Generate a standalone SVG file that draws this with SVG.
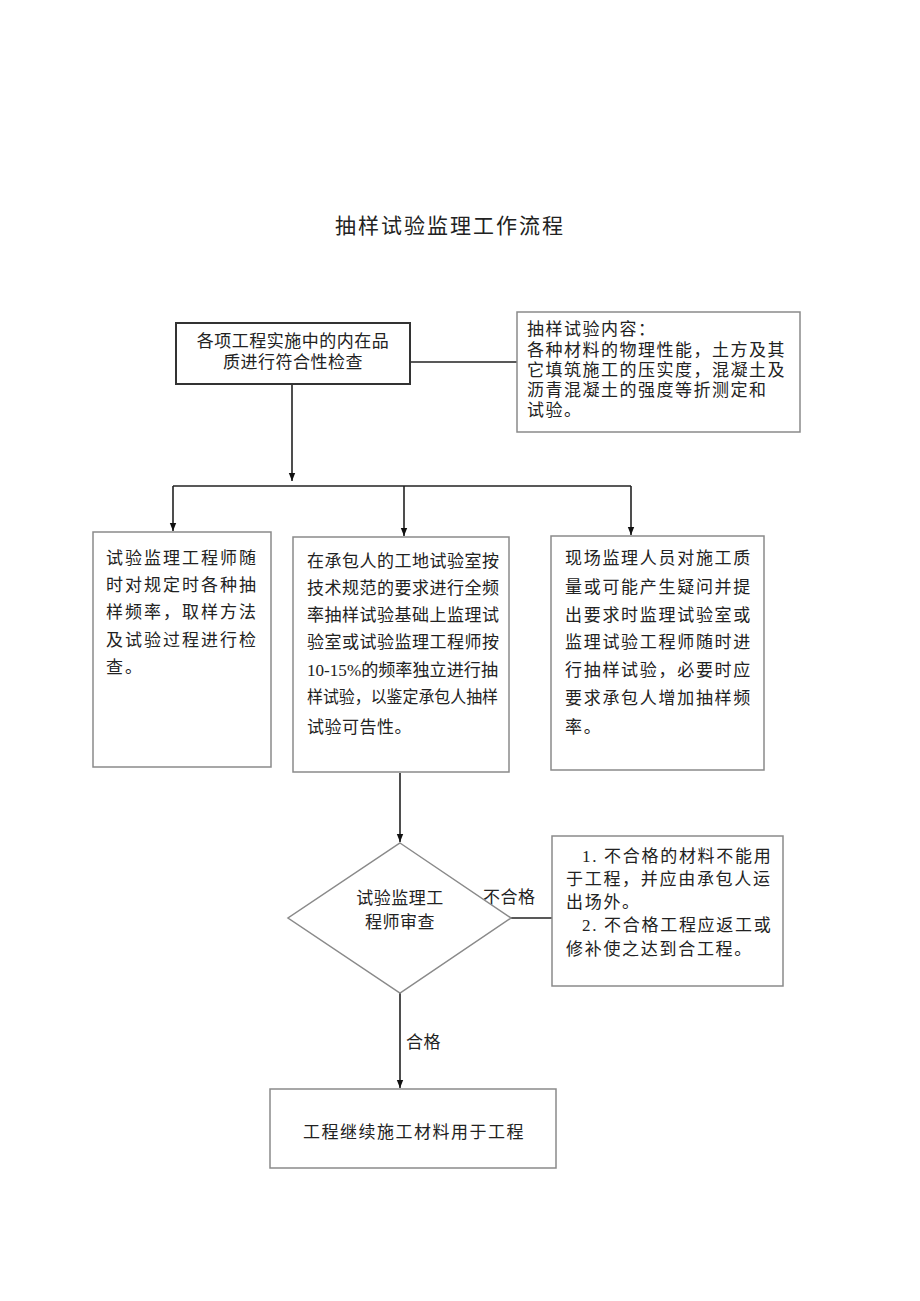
<svg xmlns="http://www.w3.org/2000/svg" width="920" height="1301" viewBox="0 0 920 1301">
<defs>
<marker id="arr" viewBox="0 0 10 10" refX="10" refY="5" markerWidth="8" markerHeight="8" markerUnits="userSpaceOnUse" orient="auto">
<path d="M0,1 L10,5 L0,9 Z" fill="#111"/>
</marker>
<style>
text{font-family:"Liberation Serif","Noto Sans CJK SC",serif;fill:#222;font-size:17px}
.box{fill:#fff;stroke:#8a8a8a;stroke-width:1.5}
.dark{fill:#fff;stroke:#333;stroke-width:2}
.line{fill:none;stroke:#222;stroke-width:1.6}
.title{font-size:21px;letter-spacing:2px}
</style>
</defs>
<rect width="920" height="1301" fill="#fff"/>
<text class="title" x="450" y="233" text-anchor="middle">抽样试验监理工作流程</text>

<g id="connectors">
<line class="line" x1="410" y1="362" x2="517" y2="362"/>
<line class="line" x1="292" y1="384" x2="292" y2="481" marker-end="url(#arr)"/>
<line class="line" x1="173" y1="486" x2="631" y2="486"/>
<line class="line" x1="173" y1="486" x2="173" y2="531" marker-end="url(#arr)"/>
<line class="line" x1="404" y1="486" x2="404" y2="536" marker-end="url(#arr)"/>
<line class="line" x1="631" y1="486" x2="631" y2="535" marker-end="url(#arr)"/>
<line class="line" x1="400" y1="773" x2="400" y2="842" marker-end="url(#arr)"/>
<line class="line" x1="511" y1="918" x2="552" y2="918"/>
<line class="line" x1="400" y1="993" x2="400" y2="1088" marker-end="url(#arr)"/>
<text x="483" y="903" style="letter-spacing:0.5px">不合格</text>
<text x="406" y="1048" style="letter-spacing:0.5px">合格</text>
</g>

<g id="n1">
<rect class="dark" x="176" y="323" width="234" height="61"/>
<text x="293" y="347" text-anchor="middle" style="letter-spacing:0.5px">各项工程实施中的内在品</text>
<text x="293" y="368" text-anchor="middle" style="letter-spacing:0.5px">质进行符合性检查</text>
</g>

<g id="n2">
<rect class="box" x="517" y="312" width="283" height="120"/>
<g style="letter-spacing:1.5px">
<text x="527" y="335">抽样试验内容：</text>
<text x="527" y="356">各种材料的物理性能，土方及其</text>
<text x="527" y="376">它填筑施工的压实度，混凝土及</text>
<text x="527" y="396">沥青混凝土的强度等折测定和</text>
<text x="527" y="416">试验。</text>
</g>
</g>

<g id="n3">
<rect class="box" x="93" y="532" width="178" height="235"/>
<g style="letter-spacing:2px">
<text x="106" y="564">试验监理工程师随</text>
<text x="106" y="591">时对规定时各种抽</text>
<text x="106" y="618">样频率，取样方法</text>
<text x="106" y="646">及试验过程进行检</text>
<text x="106" y="673">查。</text>
</g>
</g>

<g id="n4">
<rect class="box" x="293" y="537" width="216" height="235"/>
<g style="letter-spacing:0.5px">
<text x="307" y="567">在承包人的工地试验室按</text>
<text x="307" y="594">技术规范的要求进行全频</text>
<text x="307" y="621">率抽样试验基础上监理试</text>
<text x="307" y="648">验室或试验监理工程师按</text>
<text x="307" y="676" textLength="191" lengthAdjust="spacingAndGlyphs" style="letter-spacing:0">10-15%的频率独立进行抽</text>
<text x="307" y="703" textLength="191" lengthAdjust="spacingAndGlyphs" style="letter-spacing:0">样试验，以鉴定承包人抽样</text>
<text x="307" y="733">试验可告性。</text>
</g>
</g>

<g id="n5">
<rect class="box" x="551" y="536" width="213" height="234"/>
<g style="letter-spacing:1.7px">
<text x="565" y="564">现场监理人员对施工质</text>
<text x="565" y="593">量或可能产生疑问并提</text>
<text x="565" y="621">出要求时监理试验室或</text>
<text x="565" y="648">监理试验工程师随时进</text>
<text x="565" y="676">行抽样试验，必要时应</text>
<text x="565" y="704">要求承包人增加抽样频</text>
<text x="565" y="733">率。</text>
</g>
</g>

<g id="n6">
<polygon class="box" points="400,843 511,918 400,993 288,918"/>
<text x="400" y="904" text-anchor="middle" style="letter-spacing:0.5px">试验监理工</text>
<text x="400" y="928" text-anchor="middle" style="letter-spacing:0.5px">程师审查</text>
</g>

<g id="n7">
<rect class="box" x="552" y="836" width="231" height="150"/>
<g style="letter-spacing:1.7px">
<text x="582" y="862">1. 不合格的材料不能用</text>
<text x="566" y="885">于工程，并应由承包人运</text>
<text x="566" y="908">出场外。</text>
<text x="582" y="931">2. 不合格工程应返工或</text>
<text x="566" y="955">修补使之达到合工程。</text>
</g>
</g>

<g id="n8">
<rect class="box" x="270" y="1089" width="286" height="79"/>
<text x="414" y="1138" text-anchor="middle" style="letter-spacing:1.5px">工程继续施工材料用于工程</text>
</g>
</svg>
